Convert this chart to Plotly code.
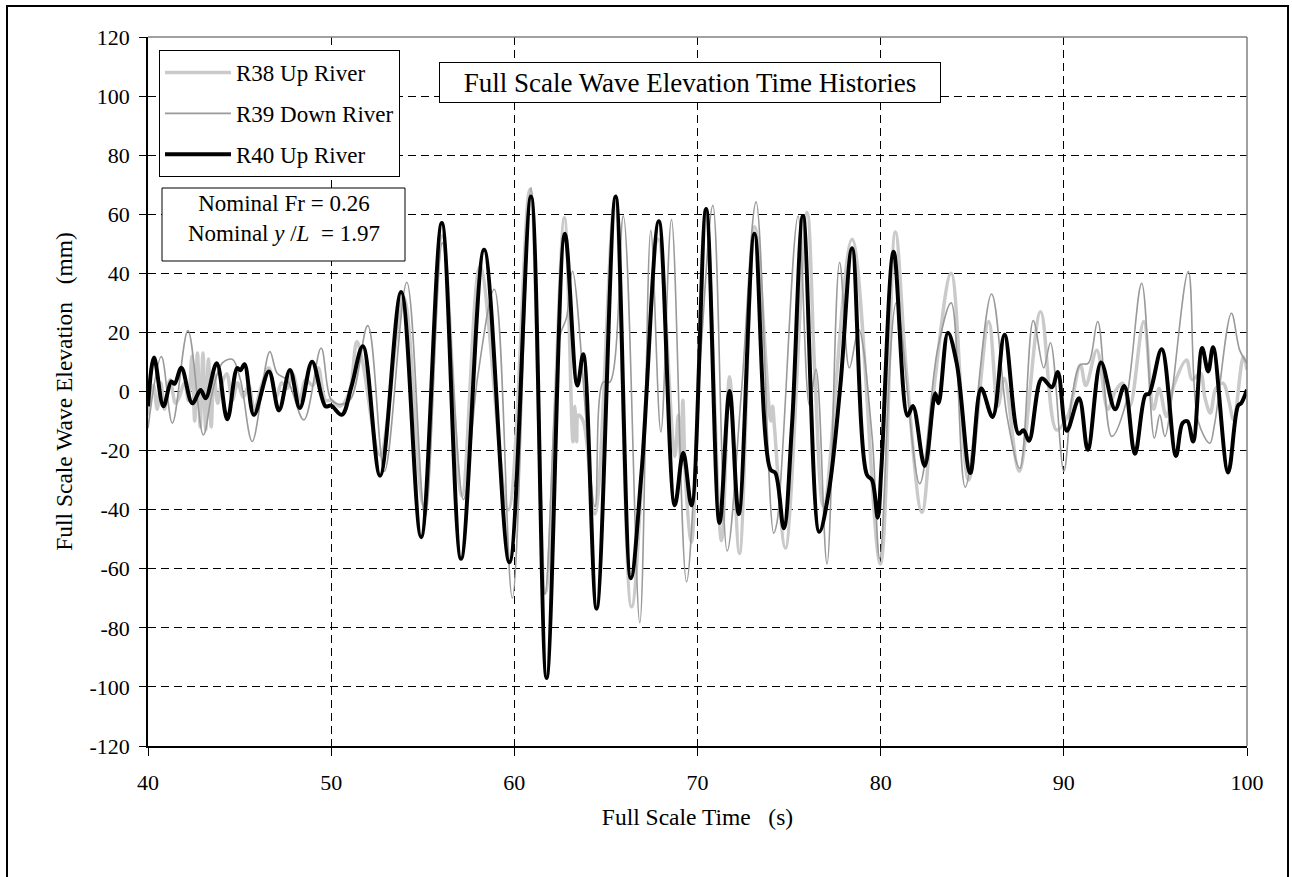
import plotly.graph_objects as go

# ---------------- data ----------------
R40_t = [40.0, 40.33, 40.84, 41.27, 41.45, 41.82, 42.42, 42.87, 43.15, 43.75, 44.33, 44.87, 45.05, 45.27,
         45.78, 46.6, 47.15, 47.75, 48.29, 48.96, 49.69, 50.0, 50.58, 51.1, 51.73, 52.67, 53.82, 54.91,
         56.04, 57.09, 58.35, 59.73, 60.91, 61.76, 62.76, 63.44, 63.76, 64.49, 65.53, 66.36, 66.95, 67.89,
         68.76, 69.22, 69.67, 70.47, 71.2, 71.75, 72.25, 73.11, 73.98, 74.25, 74.71, 75.16, 75.76, 76.65,
         77.16, 77.8, 78.44, 79.25, 79.53, 79.84, 80.04, 80.71, 81.47, 81.76, 82.4, 82.98, 83.16, 83.67,
         84.16, 84.89, 85.49, 86.11, 86.76, 87.53, 87.8, 88.1, 88.8, 89.35, 89.67, 90.16, 90.83, 91.31,
         92.03, 92.8, 93.3, 93.88, 94.46, 94.65, 95.34, 96.12, 96.48, 96.75, 97.06, 97.55, 97.88, 98.15,
         98.97, 99.51, 99.69, 100.0]
R40_v = [-5, 11.5, -5, 3.4, 2.6, 8, -4, 0.5, -2.3, 9.6, -9.4, 7.9, 7.2, 9.2,
         -7.9, 6.8, -6.4, 7.3, -5.6, 10.1, -5, -4.8, -7.9, 1.5, 15.3, -28.5, 33.7, -49.3,
         57, -56.6, 48, -57.8, 66, -97, 53.4, 2, 12.6, -73.5, 66, -63.2, -27, 57.6,
         -38.5, -20.7, -38.5, 61.8, -44.5, 0.2, -41.5, 53.4, -26.4, -27.6, -46.3, -11.3, 59.4, -47.5,
         -34.2, 2, 48.5, -28.2, -30, -42.7, -25.8, 47.3, -8.2, -4.9, -25.2, -0.7, -4, 19.9,
         9.3, -27.6, 1, -8.6, 19.2, -14.3, -13.1, -16.7, 4.4, 1.4, 6.6, -13.3, -2.3, -19.7,
         9.8, -6, 1.9, -21.1, -1.1, -0.8, 14.3, -21.8, -10.7, -10.1, -16.9, 14.7, 6.8, 15,
         -27.4, -4.8, -3.9, 0.6]

R39_t = [40.0, 40.73, 41.33, 42.18, 43.02, 43.5, 44.05, 44.6, 45.05, 45.69, 46.65, 47.05, 47.6, 48.51,
         49.45, 49.96, 50.4, 51.04, 52.0, 52.91, 54.13, 55.13, 56.07, 57.22, 58.0, 58.91, 59.89, 60.91,
         61.67, 62.5, 62.85, 63.18, 64.4, 64.85, 65.22, 65.95, 66.85, 67.45, 68.0, 68.58, 69.4, 70.2,
         70.84, 71.62, 72.4, 73.2, 74.16, 74.35, 75.49, 76.11, 76.47, 77.07, 77.76, 78.29, 78.8, 79.53,
         79.95, 80.85, 82.13, 83.1, 83.85, 84.62, 86.05, 86.9, 87.6, 88.33, 88.9, 89.27, 90.0, 90.45,
         90.89, 91.34, 91.85, 92.61, 93.34, 94.25, 94.94, 95.24, 95.52, 96.79, 97.33, 97.97, 98.24, 99.15,
         99.6, 100.0]
R39_v = [-12.4, 11.8, -10.7, 20.6, -14.7, -0.6, 9.6, 10.9, 3.9, -16.9, 13.5, 6.2, 3.9, -9.6,
         14.7, -2.3, -4.3, -2.8, 22.3, -27, 37, -42.7, 50.3, -36.6, 5, 34.6, -69.9, 69,
         -68.7, 19, 25, 40.7, -39, 3.2, 3.2, 59.4, -78.3, 54.6, -13.7, 58.2, -64.4, 15,
         63, -54, 0, 64.2, -48, -44, 59.4, -4.6, 7.5, -58.4, 43.7, 8, 21, -15,
         -56.6, 30, -31.2, 14, 30, -32.4, 33, -8.5, -26, 24, 8, 16.5, -27, -1.7,
         9, 9.6, 23.7, -15.2, -5, 36.6, -15.8, -7.9, -15.2, 40.6, -10, -17.5, -10.7, 26.5,
         14, 9.6]

R38_t = [40.0, 40.3, 40.5, 40.7, 40.9, 41.2, 41.5, 41.7, 42.0, 42.2, 42.4, 42.55, 42.7, 42.85,
         43.0, 43.15, 43.3, 43.45, 43.6, 43.8, 44.0, 44.3, 44.6, 44.9, 45.2, 45.5, 45.8, 46.2,
         46.6, 47.0, 47.3, 47.6, 47.9, 48.3, 48.6, 49.0, 49.3, 49.7, 50.0, 50.5, 51.0, 51.4,
         51.7, 52.67, 53.95, 55.04, 56.07, 57.13, 58.13, 59.67, 60.85, 61.7, 62.73, 63.2, 63.3, 63.4,
         63.5, 63.76, 64.4, 65.49, 66.4, 67.85, 68.76, 68.95, 69.1, 69.2, 69.35, 69.67, 70.44, 71.31,
         71.75, 72.29, 73.13, 74.0, 74.1, 74.2, 74.8, 75.98, 76.4, 76.89, 78.44, 79.98, 80.8, 81.4,
         82.25, 82.95, 83.85, 84.8, 85.9, 86.4, 86.75, 87.56, 88.73, 89.6, 90.2, 90.9, 91.2, 91.8,
         92.4, 92.8, 93.2, 93.6, 94.36, 94.9, 95.2, 95.6, 96.0, 96.7, 97.0, 97.45, 97.7, 98.0,
         98.3, 98.7, 99.0, 99.27, 99.8, 100.0]
R38_v = [-8, 2, -6, 3, -6, 4, -4, -2, 3, -3, 12, -10, 13, -12,
         13, -13, 11, -12, 6, -4, 2, 6, -3, 3, -2, 2, -6, 2,
         8, -2, 3, 1, 6, -3, 4, 2, 8, -3, -3, -5, 0, 16.8,
         10.5, -21.5, 32, -38.5, 52.7, -35.4, 42.5, -40, 68.5, -68, 58.8, -17, -5, -17,
         -8, -10, -41.5, 64.2, -72.9, 51.5, -22, -8, -25, -3, -30, -51, 61, -50.5,
         5, -54.8, 55.8, -10, -5, -12, -53, 60.6, 7, -39, 51.5, -58.4, 54, 7,
         -40.9, 3.3, 40, -30, 23.7, -5, 4.5, -27, 27, -13, -8.5, 9, 2, 14,
         -6, 0, 2.8, -5, 23.7, -6, 1, -8.5, 2, 10.7, 4, 6.2, -2, -7.3,
         1, 2.8, -3, -9.6, 11.8, 7.3]

series_names = ["R38 Up River", "R39 Down River", "R40 Up River"]

x_ticks = [40, 50, 60, 70, 80, 90, 100]
y_ticks = [-120, -100, -80, -60, -40, -20, 0, 20, 40, 60, 80, 100, 120]

FONT = "Liberation Serif, Times New Roman, serif"

fig = go.Figure()
fig.add_trace(go.Scatter(x=R38_t, y=R38_v, name=series_names[0], mode="lines",
                         line=dict(color="#cacaca", width=3.5, shape="spline", smoothing=1.0),
                         legendgroup="a"))
fig.add_trace(go.Scatter(x=R39_t, y=R39_v, name=series_names[1], mode="lines",
                         line=dict(color="#9a9a9a", width=1.6, shape="spline", smoothing=1.0),
                         legendgroup="b"))
fig.add_trace(go.Scatter(x=R40_t, y=R40_v, name=series_names[2], mode="lines",
                         line=dict(color="#000000", width=4, shape="spline", smoothing=1.0),
                         legendgroup="c"))

grid_dash = "8px,5px"
fig.update_xaxes(range=[40, 100], tickvals=x_ticks, ticktext=[str(v) for v in x_ticks],
                 ticks="outside", ticklen=8, tickcolor="black", tickwidth=1, ticklabelstandoff=8,
                 showline=True, linecolor="black", linewidth=1.5,
                 showgrid=True, gridcolor="black", gridwidth=1, griddash=grid_dash,
                 zeroline=False, tickfont=dict(family=FONT, size=22, color="black"),
                 title=dict(text="Full Scale Time\u00a0\u00a0\u00a0(s)",
                            font=dict(family=FONT, size=23.5, color="black"), standoff=14))
fig.update_yaxes(range=[-120, 120], tickvals=y_ticks, ticktext=[str(v) for v in y_ticks],
                 ticks="outside", ticklen=7, tickcolor="black", tickwidth=1, ticklabelstandoff=5,
                 showline=True, linecolor="black", linewidth=1.5,
                 showgrid=True, gridcolor="black", gridwidth=1, griddash=grid_dash,
                 zeroline=False, tickfont=dict(family=FONT, size=22, color="black"),
                 title=dict(text="Full Scale Wave Elevation\u00a0\u00a0\u00a0(mm)",
                            font=dict(family=FONT, size=23.5, color="black"), standoff=10))

def px_x(p):
    return (p - 148) / 1099.0

def px_y(p):
    return (746 - p) / 709.0

fig.update_layout(
    width=1292, height=877,
    margin=dict(l=148, r=45, t=37, b=131),
    paper_bgcolor="white", plot_bgcolor="white",
    font=dict(family=FONT, size=22, color="black"),
    showlegend=True,
    legend=dict(x=px_x(159), y=px_y(50), xanchor="left", yanchor="top",
                bgcolor="white", bordercolor="black", borderwidth=1,
                font=dict(family=FONT, size=23, color="black"),
                traceorder="grouped", tracegroupgap=8, itemwidth=66,
                entrywidth=174, entrywidthmode="pixels"),
    shapes=[
        # grey plot-area border (top and right)
        dict(type="line", xref="paper", yref="paper", x0=0, x1=1, y0=1, y1=1,
             line=dict(color="#808080", width=1.5)),
        dict(type="line", xref="paper", yref="paper", x0=1, x1=1, y0=0, y1=1,
             line=dict(color="#808080", width=1.5)),
        # outer chart frame
        dict(type="rect", xref="paper", yref="paper", x0=px_x(7), x1=px_x(1288), y0=-0.21, y1=px_y(6),
             line=dict(color="black", width=2), fillcolor="rgba(0,0,0,0)", layer="below"),
        # box of the "Nominal" note
        dict(type="rect", xref="paper", yref="paper", x0=px_x(162), x1=px_x(405), y0=px_y(261), y1=px_y(188),
             line=dict(color="black", width=1), fillcolor="white", layer="above"),
    ],
    annotations=[
        dict(text="Full Scale Wave Elevation Time Histories", xref="paper", yref="paper",
             x=px_x(689.5), y=px_y(82.5), xanchor="center", yanchor="middle", showarrow=False,
             font=dict(family=FONT, size=27, color="black"),
             bgcolor="white", bordercolor="black", borderwidth=1, borderpad=4, width=492, height=31),
        dict(text="Nominal Fr = 0.26<br>Nominal <i>y</i> /<i>L</i>  = 1.97", xref="paper", yref="paper",
             x=px_x(283.5), y=px_y(218), xanchor="center", yanchor="middle", showarrow=False,
             font=dict(family=FONT, size=23, color="black")),
    ],
)

fig.write_html("out.html")
